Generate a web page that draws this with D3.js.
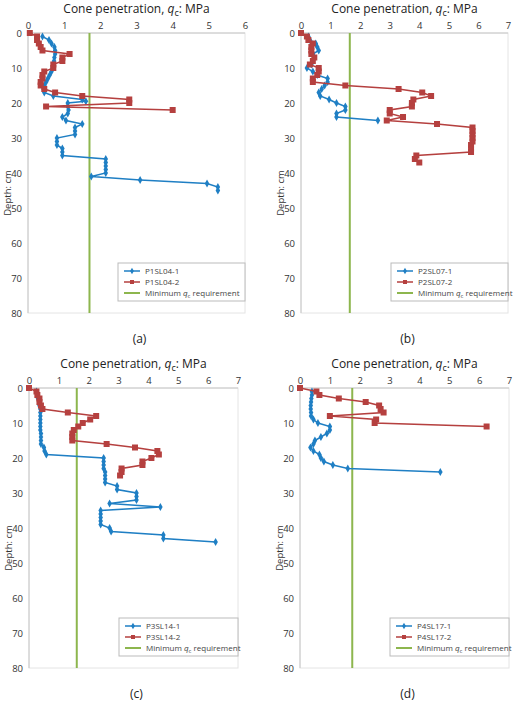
<!DOCTYPE html>
<html><head><meta charset="utf-8">
<script src="https://cdn.jsdelivr.net/npm/d3@7"></script>
<style>body{margin:0;background:#fff}text{font-family:"Open Sans",sans-serif}</style>
</head><body><svg id="c" width="520" height="721"></svg>
<script>
const depthTicks=[0,10,20,30,40,50,60,70,80];
const names=[["P1SL04-1","P1SL04-2"],["P2SL07-1","P2SL07-2"],["P3SL14-1","P3SL14-2"],["P4SL17-1","P4SL17-2"]];
const panelLabels=["(a)","(b)","(c)","(d)"];
const xMax=[6,7,7,7];
const minReq=[1.7,1.65,1.6,1.75];
const aBlueD=[1,2,3,4,5,6,7,8,9,10,11,12,13,14,15,16,17,18,19,19.5,20,21,22,23,24,25,26,27,28,29,30,31,32,33,34,35,36,37,38,39,40,41,42,43,44,45];
const aBlueQ=[0.4,0.58,0.65,0.73,0.75,0.75,0.73,0.72,0.7,0.68,0.65,0.6,0.55,0.5,0.45,0.43,0.45,0.7,1.5,1.6,1.1,1.1,1.12,1.1,0.95,1.05,1.5,1.3,1.3,1.3,0.8,0.8,0.8,0.95,0.95,0.95,2.15,2.15,2.15,2.15,2.15,1.75,3.1,4.95,5.25,5.25];
const aRedD=[0,1,2,3,4,5,6,7,8,9,10,11,12,13,14,15,16,17,18,19,20,21,22];
const aRedQ=[0.05,0.25,0.25,0.3,0.35,0.4,1.15,0.95,0.95,0.7,0.7,0.45,0.4,0.4,0.35,0.35,0.45,0.75,1.5,2.8,2.8,0.5,4.0];
const bBlueD=[1,2,3,4,5,6,7,8,9,10,11,12,13,14,15,16,17,18,19,20,21,22,23,24,25];
const bBlueQ=[0.25,0.3,0.5,0.55,0.6,0.4,0.45,0.4,0.35,0.2,0.4,0.55,0.9,0.9,0.8,0.7,0.6,0.65,0.95,1.2,1.5,1.5,1.2,1.2,2.6];
const bRedD=[0,1,2,3,4,5,6,7,8,9,10,11,12,13,14,15,16,17,18,19,20,21,22,23,24,25,26,27,28,29,30,31,32,33,34,35,36,37];
const bRedQ=[0,0.2,0.25,0.4,0.35,0.35,0.35,0.45,0.4,0.3,0.6,0.6,0.55,0.4,0.4,1.5,3.3,4.1,4.4,3.8,3.75,3.75,3.0,3.0,3.45,2.9,4.6,5.8,5.8,5.8,5.8,5.8,5.75,5.75,5.75,3.9,3.85,4.0];
const cBlueD=[1,2,3,4,5,6,7,8,9,10,11,12,13,14,15,16,17,18,19,20,21,22,23,24,25,26,27,28,29,30,31,32,33,34,35,36,37,38,39,40,41,42,43,44];
const cBlueQ=[0.25,0.28,0.3,0.35,0.35,0.38,0.38,0.38,0.38,0.38,0.38,0.38,0.4,0.4,0.4,0.4,0.5,0.52,0.58,2.5,2.5,2.5,2.5,2.55,2.55,2.55,2.55,2.95,2.95,3.6,3.6,3.6,2.7,4.4,2.4,2.4,2.4,2.4,2.4,2.7,2.75,4.5,4.5,6.25];
const cRedD=[0,1,2,3,4,5,6,7,8,9,10,11,12,13,14,15,16,17,18,19,20,21,22,23,24,25];
const cRedQ=[0,0.25,0.28,0.35,0.35,0.4,0.45,1.3,2.25,2.05,1.8,1.65,1.5,1.45,1.45,1.45,2.6,3.55,4.3,4.35,4.1,3.8,3.8,3.1,3.1,3.05];
const dBlueD=[1,2,3,4,5,6,7,8,9,10,11,12,13,14,15,16,17,18,19,20,21,22,23,24];
const dBlueQ=[0.4,0.4,0.38,0.37,0.36,0.36,0.37,0.37,0.45,0.6,1.0,1.0,0.9,0.7,0.5,0.45,0.35,0.45,0.65,0.7,0.8,1.1,1.6,4.7];
const dRedD=[0,1,2,3,4,5,6,7,8,9,10,11];
const dRedQ=[0,0.55,0.65,1.3,2.2,2.65,2.7,2.8,1.0,2.55,2.5,6.25];
const series=[[[aBlueD,aBlueQ],[aRedD,aRedQ]],[[bBlueD,bBlueQ],[bRedD,bRedQ]],[[cBlueD,cBlueQ],[cRedD,cRedQ]],[[dBlueD,dBlueQ],[dRedD,dRedQ]]];
const layout=[{x0:28,x1:245,y0:33,y1:313,top:0},{x0:301,x1:508,y0:33,y1:313,top:0},{x0:29,x1:238,y0:388,y1:668,top:355},{x0:300,x1:509,y0:388,y1:668,top:355}];
const BLUE="#1f7fc4",RED="#b5403f",GREEN="#8db64e";
const svg=d3.select("#c");
layout.forEach((L,i)=>{
  const g=svg.append("g");
  const x=d3.scaleLinear().domain([0,xMax[i]]).range([L.x0,L.x1]);
  const y=d3.scaleLinear().domain([0,80]).range([L.y0,L.y1]);
  g.append("rect").attr("x",L.x0).attr("y",L.y0).attr("width",L.x1-L.x0).attr("height",L.y1-L.y0).attr("fill","none").attr("stroke","#e4e4e4");
  g.append("line").attr("x1",L.x0).attr("x2",L.x0).attr("y1",L.y0).attr("y2",L.y1).attr("stroke","#c8c8c8");
  g.append("line").attr("x1",L.x0).attr("x2",L.x1).attr("y1",L.y0).attr("y2",L.y0).attr("stroke","#c8c8c8");
  const xa=g.append("g").attr("transform",`translate(0,${L.y0})`).call(d3.axisTop(x).ticks(xMax[i]).tickSize(0).tickPadding(4));
  const ya=g.append("g").attr("transform",`translate(${L.x0},0)`).call(d3.axisLeft(y).tickValues(depthTicks).tickSize(0).tickPadding(6));
  [xa,ya].forEach(a=>{a.select(".domain").remove();a.selectAll("text").attr("font-size",9.5).attr("fill","#333").attr("font-family","Open Sans");});
  const t=g.append("text").attr("x",(L.x0+L.x1)/2).attr("y",L.top+13).attr("text-anchor","middle").attr("font-size",12).attr("fill","#222");
  t.append("tspan").text("Cone penetration, ");
  t.append("tspan").attr("font-style","italic").text("q");
  t.append("tspan").attr("font-size",9).attr("dy",3).text("c");
  t.append("tspan").attr("dy",-3).text(": MPa");
  g.append("text").attr("transform",`translate(${L.x0-17},${L.y0+160}) rotate(-90)`).attr("text-anchor","middle").attr("font-size",9.5).attr("fill","#333").text("Depth: cm");
  g.append("line").attr("x1",x(minReq[i])).attr("x2",x(minReq[i])).attr("y1",y(0)).attr("y2",y(80)).attr("stroke",GREEN).attr("stroke-width",2);
  const line=d3.line().x(d=>x(d[1])).y(d=>y(d[0]));
  series[i].forEach((s,k)=>{
    const pts=s[0].map((d,j)=>[d,s[1][j]]);
    const col=k?RED:BLUE;
    g.append("path").attr("d",line(pts)).attr("fill","none").attr("stroke",col).attr("stroke-width",1.5);
    if(k){g.selectAll(null).data(pts).enter().append("rect").attr("x",d=>x(d[1])-3).attr("y",d=>y(d[0])-3).attr("width",6).attr("height",6).attr("fill",col);}
    else{g.selectAll(null).data(pts).enter().append("path").attr("d",d3.symbol(d3.symbolDiamond,18)()).attr("transform",d=>`translate(${x(d[1])},${y(d[0])})`).attr("fill",col);}
  });
  const lx=L.x0+90, ly=L.y0+230;
  g.append("rect").attr("x",lx).attr("y",ly).attr("width",L.x1-lx).attr("height",38).attr("fill","#fff").attr("stroke","#bbb");
  const items=[[names[i][0],BLUE],[names[i][1],RED],["Minimum",GREEN]];
  items.forEach((it,k)=>{
    const yy=ly+8+k*11;
    g.append("line").attr("x1",lx+6).attr("x2",lx+22).attr("y1",yy).attr("y2",yy).attr("stroke",it[1]).attr("stroke-width",k==2?2:1.5);
    if(k==0)g.append("path").attr("d",d3.symbol(d3.symbolDiamond,12)()).attr("transform",`translate(${lx+14},${yy})`).attr("fill",BLUE);
    if(k==1)g.append("rect").attr("x",lx+12).attr("y",yy-2).attr("width",4).attr("height",4).attr("fill",RED);
    const tx=g.append("text").attr("x",lx+27).attr("y",yy+3).attr("font-size",8).attr("fill","#444");
    if(k<2)tx.text(it[0]);
    else{tx.append("tspan").text("Minimum ");tx.append("tspan").attr("font-style","italic").text("q");tx.append("tspan").attr("font-size",6).attr("dy",2).text("c");tx.append("tspan").attr("dy",-2).text(" requirement");}
  });
  g.append("text").attr("x",(L.x0+L.x1)/2+3).attr("y",L.y1+30).attr("text-anchor","middle").attr("font-size",12).attr("fill","#222").text(panelLabels[i]);
});
</script></body></html>
